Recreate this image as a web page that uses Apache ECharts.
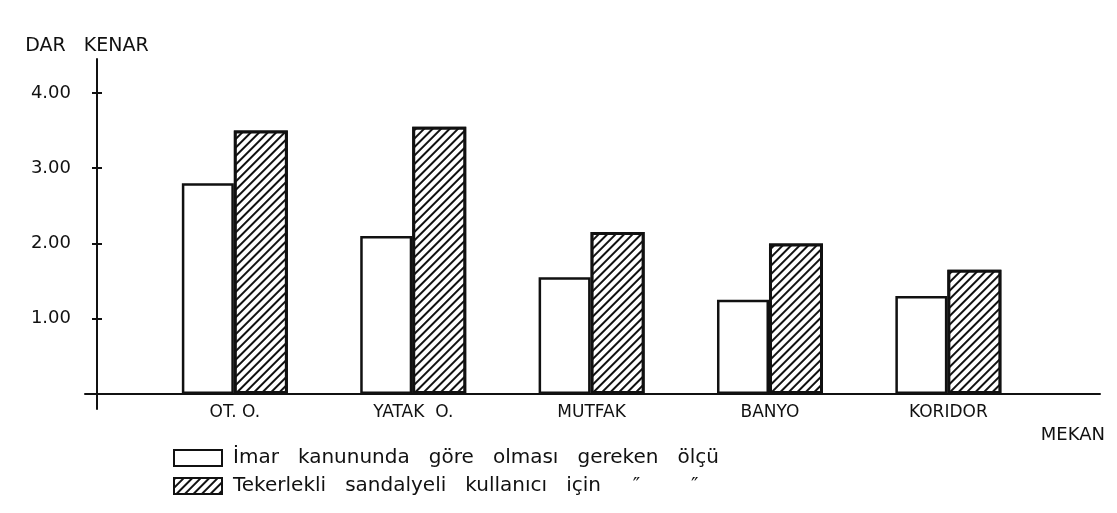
<!DOCTYPE html>
<html>
<head>
<meta charset="utf-8">
<script src="https://cdn.jsdelivr.net/npm/echarts@6/dist/echarts.min.js"></script>
<style>
html,body{margin:0;padding:0;background:#fff;}
#chart{width:1117px;height:513px;}
</style>
</head>
<body>
<div id="chart"></div>
<script>
const categories = ['OT. O.', 'YATAK  O.', 'MUTFAK', 'BANYO', 'KORIDOR'];
const imarValues = [2.80, 2.10, 1.55, 1.25, 1.30];
const tekerlekliValues = [3.50, 3.55, 2.15, 2.00, 1.65];
const yTicks = [1, 2, 3, 4];
const seriesNames = ['İmar   kanununda   göre   olması   gereken   ölçü', 'Tekerlekli   sandalyeli   kullanıcı   için     ″        ″'];

const FONT = 'DejaVu Sans';
const chart = echarts.init(document.getElementById('chart'), null, {renderer: 'canvas'});

const catPos = categories.map((c, i) => i + 1);

chart.setOption({
  backgroundColor: '#ffffff',
  animation: false,
  grid: {left: 85, right: 17, top: 59, bottom: 104, containLabel: false},
  legend: {
    orient: 'vertical',
    left: 173,
    top: 448,
    padding: 0,
    icon: 'rect',
    itemWidth: 48,
    itemHeight: 16,
    itemGap: 8,
    textStyle: {fontFamily: FONT, fontSize: 20, color: '#111', padding: [0, 0, 0, 6]},
    data: seriesNames
  },
  xAxis: {
    type: 'value',
    min: 0.16,
    max: 5.85,
    splitLine: {show: false},
    axisLine: {show: true, onZero: true, lineStyle: {color: '#111', width: 2}},
    axisTick: {show: false},
    axisLabel: {
      customValues: catPos,
      margin: -5,
      fontFamily: FONT,
      fontSize: 17,
      color: '#111',
      formatter: v => categories[Math.round(v) - 1] || ''
    },
    name: 'MEKAN',
    nameLocation: 'end',
    nameGap: 5,
    nameTextStyle: {fontFamily: FONT, fontSize: 18, color: '#111', align: 'right', verticalAlign: 'top', padding: [32, 0, 0, 0]}
  },
  yAxis: [{
    type: 'value',
    min: -0.2,
    max: 4.45,
    offset: -12,
    splitLine: {show: false},
    axisLine: {show: true, onZero: false, lineStyle: {color: '#111', width: 2}},
    axisTick: {show: true, customValues: yTicks, length: 5, lineStyle: {color: '#111', width: 2}},
    axisLabel: {
      customValues: yTicks,
      margin: 26,
      fontFamily: FONT,
      fontSize: 18,
      color: '#111',
      formatter: v => v.toFixed(2)
    },
    name: 'DAR   KENAR',
    nameLocation: 'end',
    nameGap: 3,
    nameTextStyle: {fontFamily: FONT, fontSize: 19, color: '#111', align: 'center', padding: [0, 20, 0, 0]}
  }, {
    type: 'value',
    min: -0.2,
    max: 4.45,
    offset: -12,
    position: 'left',
    splitLine: {show: false},
    axisLine: {show: false},
    axisTick: {show: true, inside: true, customValues: yTicks, length: 5, lineStyle: {color: '#111', width: 2}},
    axisLabel: {show: false}
  }],
  series: [{
    name: seriesNames[0],
    type: 'bar',
    barWidth: 52,
    barGap: '0%',
    data: catPos.map((p, i) => [p, imarValues[i]]),
    itemStyle: {color: '#ffffff', borderColor: '#111', borderWidth: 2.5}
  }, {
    name: seriesNames[1],
    type: 'bar',
    barWidth: 54,
    barGap: '0%',
    data: catPos.map((p, i) => [p, tekerlekliValues[i]]),
    itemStyle: {
      color: '#ffffff',
      borderColor: '#111',
      borderWidth: 3,
      decal: {
        symbol: 'rect',
        symbolSize: 1,
        dashArrayX: [1, 0],
        dashArrayY: [1.4, 3.8],
        rotation: -Math.PI / 4,
        color: '#111',
        backgroundColor: '#ffffff'
      }
    }
  }]
});
</script>
</body>
</html>
